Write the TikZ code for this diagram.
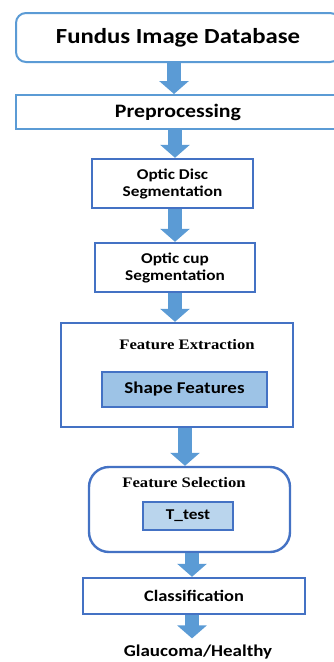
\documentclass[tikz,border=0pt]{standalone}
\usepackage{fontspec}
\setmainfont[FakeStretch=1.15]{Carlito}
\newfontfamily\titlefont[FakeStretch=1.15]{Liberation Serif}
\usetikzlibrary{arrows.meta}
\definecolor{lineblue}{HTML}{4472C4}
\definecolor{softblue}{HTML}{5B9BD5}
\definecolor{fillblue}{HTML}{9DC3E6}
\tikzset{
  box/.style={draw=lineblue, line width=2.4pt, fill=white, inner sep=0pt, align=center, font=\bfseries},
  fat/.style={draw=softblue, line width=14pt, -{Triangle[length=13pt,width=29pt]}}
}
\begin{document}
\begin{tikzpicture}[x=1pt,y=-1pt]
    \useasboundingbox (0,0) rectangle (334,662);
    \node[box, draw=softblue, line width=2pt, rounded corners=10pt, minimum width=324pt, minimum height=49pt, font=\bfseries\fontsize{21.5}{24}\selectfont] (db) at (178,37.5) {Fundus Image Database};
    \node[box, draw=softblue, line width=2pt, minimum width=324pt, minimum height=34pt, font=\bfseries\fontsize{19}{22}\selectfont] (pre) at (178,112) {Preprocessing};
    \node[box, minimum width=161pt, minimum height=49pt, font=\bfseries\fontsize{15}{17}\selectfont] (disc) at (172.5,183.5) {Optic Disc\\Segmentation};
    \node[box, minimum width=160pt, minimum height=49pt, font=\bfseries\fontsize{15}{17}\selectfont] (cup) at (175,267.5) {Optic cup\\Segmentation};
    % feature extraction block
    \node[box, minimum width=232pt, minimum height=104pt] (extr) at (177,375) {};
    \node[font=\titlefont\bfseries\fontsize{14.5}{17}\selectfont] (extrtitle) at (187,345) {Feature Extraction};
    \node[box, fill=fillblue, minimum width=165pt, minimum height=35pt, font=\bfseries\fontsize{16.5}{19}\selectfont] (shape) at (184.5,389.5) {Shape Features};
    % feature selection block
    \node[box, rounded corners=20pt, minimum width=201pt, minimum height=85pt] (sel) at (189.5,509.5) {};
    \node[font=\titlefont\bfseries\fontsize{14.5}{17}\selectfont] (seltitle) at (184,483) {Feature Selection};
    \node[box, fill=fillblue!70, minimum width=90pt, minimum height=28pt, font=\bfseries\fontsize{15}{18}\selectfont] (ttest) at (188,516) {T\_test};
    \node[box, minimum width=222pt, minimum height=36pt, font=\bfseries\fontsize{16}{19}\selectfont] (cls) at (194,596) {Classification};
    \node[font=\bfseries\fontsize{16.5}{19}\selectfont] (out) at (198,652) {Glaucoma/Healthy};
    % arrows
    \draw[fat] (db.south -| 174,0) -- (pre.north -| 174,0);
    \draw[fat] (pre.south -| 175,0) -- (disc.north -| 175,0);
    \draw[fat] (disc.south -| 175,0) -- (cup.north -| 175,0);
    \draw[fat] (cup.south -| 175,0) -- (extr.north -| 175,0);
    \draw[fat] (extr.south -| 185,0) -- (sel.north -| 185,0);
    \draw[fat] (sel.south -| 192,0) -- (cls.north -| 192,0);
    \draw[fat] (cls.south -| 192,0) -- ([yshift=3pt]out.north -| 192,0);
  \end{tikzpicture}
\end{document}
